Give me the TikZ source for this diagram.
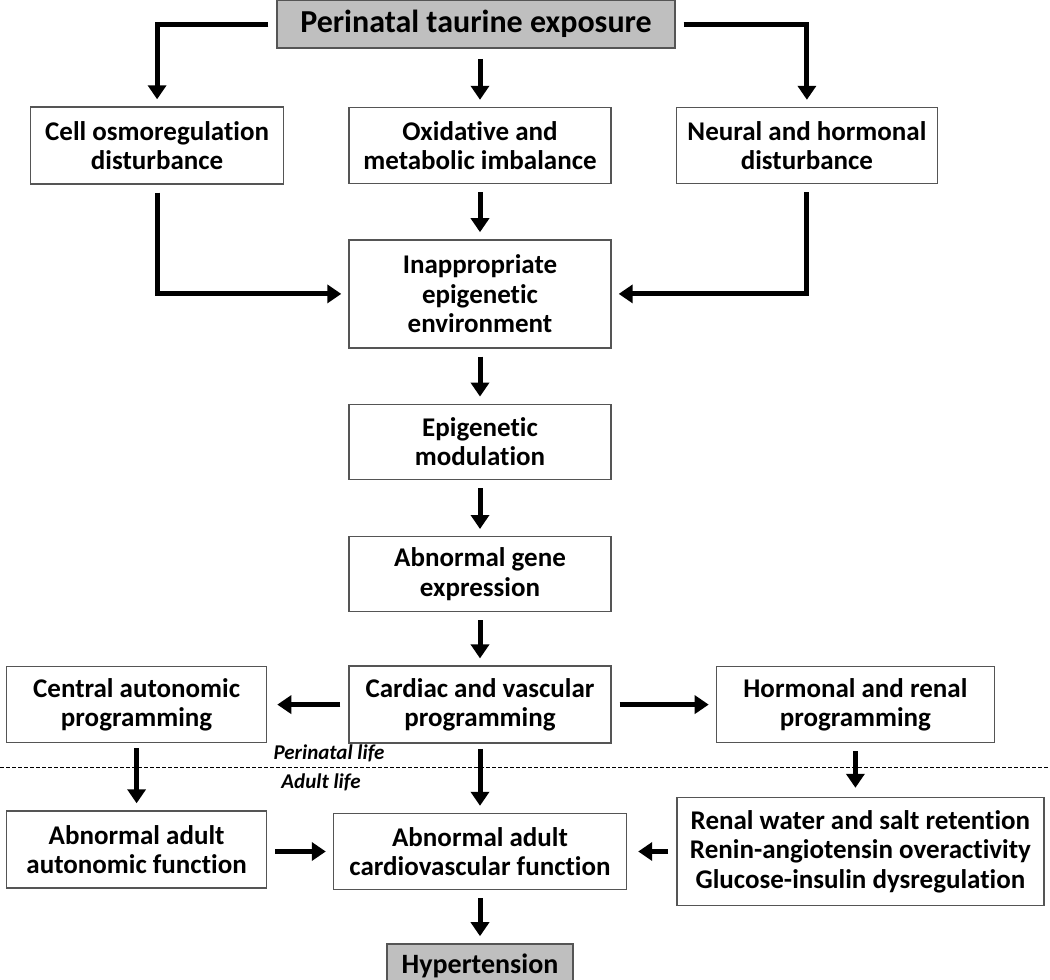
\documentclass[tikz,border=0pt]{standalone}
\usepackage{fontspec}
\setmainfont{Carlito}[Ligatures=NoCommon]
\usetikzlibrary{arrows.meta,positioning}

\definecolor{boxline}{RGB}{85,85,85}
\definecolor{boxgray}{RGB}{191,191,191}

\begin{document}
\begin{tikzpicture}[x=1pt,y=-1pt,
        box/.style={draw=boxline,line width=1.4pt,rectangle,fill=white,inner sep=0pt,
            minimum width=262pt,minimum height=76pt,align=center,
            font=\fontsize{27}{29.5}\selectfont\bfseries},
        tallbox/.style={box,minimum height=108pt},
        graybox/.style={box,fill=boxgray,font=\fontsize{28}{30}\selectfont\bfseries},
        lifelabel/.style={inner sep=0pt,font=\fontsize{21}{22}\selectfont\bfseries\itshape},
        arr/.style={line width=5pt,-{Triangle[length=14pt,width=18pt]},
            shorten <=8pt,shorten >=7pt}]
   \useasboundingbox (0,0) rectangle (1050,980);

   % middle column
   \node (oxid) [box] at (480,145.5) {Oxidative and\\metabolic imbalance};
   \node (top) [graybox,minimum width=398pt,minimum height=48pt,above=58pt of oxid,xshift=-4pt,
       font=\fontsize{32}{34}\selectfont\bfseries] {Perinatal taurine exposure};
   \node (inapp) [tallbox,below=55pt of oxid] {Inappropriate\\epigenetic\\environment};
   \node (epimod) [box,minimum height=75pt,below=55pt of inapp] {Epigenetic\\modulation};
   \node (gene) [box,minimum height=75pt,below=56pt of epimod] {Abnormal gene\\expression};
   \node (cardiac) [box,minimum height=77pt,below=53pt of gene] {Cardiac and vascular\\programming};
   \node (cvadult) [box,minimum width=293pt,below=69pt of cardiac] {Abnormal adult\\cardiovascular function};
   \node (hyper) [graybox,minimum width=186pt,minimum height=43pt,below=53pt of cvadult] {Hypertension};

   % side boxes
   \node (cell) [box,minimum width=253pt,minimum height=77pt,left=64pt of oxid] {Cell osmoregulation\\disturbance};
   \node (neural) [box,minimum width=261pt,right=64pt of oxid] {Neural and hormonal\\disturbance};
   \node (central) [box,minimum width=260pt,left=81pt of cardiac] {Central autonomic\\programming};
   \node (hormonal) [box,minimum width=278pt,right=104pt of cardiac] {Hormonal and renal\\programming};
   \node (autoadult) [box,minimum width=260pt,minimum height=77pt,below=67pt of central] {Abnormal adult\\autonomic function};
   \node (renal) [tallbox,minimum width=367pt,right=49pt of cvadult] {Renal water and salt retention\\Renin-angiotensin overactivity\\Glucose-insulin dysregulation};

   % perinatal / adult border
   \coordinate (lifeL) at (0,767);
   \coordinate (lifeR) at (1050,767);
   \draw[line width=1pt,dash pattern=on 4pt off 2pt] (lifeL) -- (lifeR);
   \node (perinatal) [lifelabel] at (329,753) {Perinatal life};
   \node (adult) [lifelabel] at (321,782) {Adult life};

   \draw[arr] (top.west) -| (cell.north);
   \draw[arr] (top.east) -| (neural.north);
   \draw[arr,shorten <=10pt] (top.south -| oxid) -- (oxid.north);
   \draw[arr] (oxid) -- (inapp);
   \draw[arr] (cell.south) |- (inapp.west);
   \draw[arr] (neural.south) |- (inapp.east);
   \draw[arr] (inapp) -- (epimod);
   \draw[arr] (epimod) -- (gene);
   \draw[arr] (gene) -- (cardiac);
   \draw[arr,shorten >=10pt] (cardiac) -- (central);
   \draw[arr] (cardiac) -- (hormonal);
   \draw[arr,shorten <=5pt] (central) -- (autoadult);
   \draw[arr,shorten <=5pt] (cardiac) -- (cvadult);
   \draw[arr,shorten >=9pt] (hormonal.south) -- (hormonal.south |- renal.north);
   \draw[arr] (autoadult.east |- cvadult) -- (cvadult.west);
   \draw[arr,shorten >=11pt] (renal.west) -- (cvadult.east);
   \draw[arr] (cvadult) -- (hyper);
\end{tikzpicture}
\end{document}
